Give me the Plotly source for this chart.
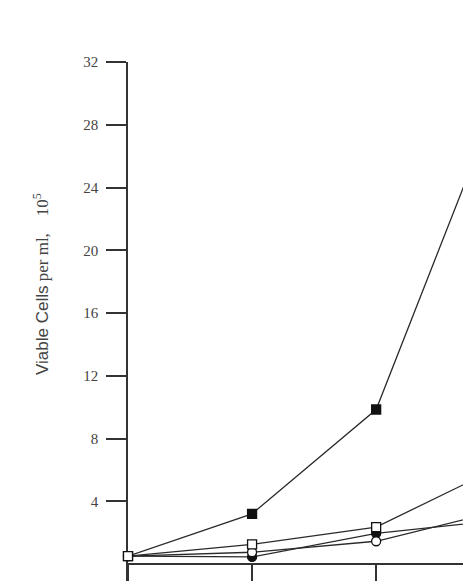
import plotly.graph_objects as go

days = [0, 1, 2, 3]
filled_square = [0.5, 3.2, 9.85, 30.0]
open_square = [0.5, 1.25, 2.35, 6.2]
filled_circle = [0.5, 0.45, 1.95, 2.8]
open_circle = [0.5, 0.75, 1.45, 3.4]
y_ticks = [4, 8, 12, 16, 20, 24, 28, 32]
x_ticks = [0, 1, 2, 3]

W, H = 463, 581
ml, mt = 128, 62
ymin, ymax = -1.083, 32
xmin, xmax = 0, 2.70

line_col = "#2a2a2a"
series = [
    (filled_circle, "circle", "#111111", "#111111"),
    (open_circle, "circle", "white", "#111111"),
    (filled_square, "square", "#111111", "#111111"),
    (open_square, "square", "white", "#111111"),
]

fig = go.Figure()
for vals, sym, fill, edge in series:
    fig.add_trace(go.Scatter(x=days, y=vals, mode="lines",
                             line=dict(color=line_col, width=1.3),
                             showlegend=False, hoverinfo="skip"))
for vals, sym, fill, edge in series:
    fig.add_trace(go.Scatter(x=days, y=vals, mode="markers", cliponaxis=False,
                             marker=dict(symbol=sym, size=9, color=fill,
                                         line=dict(color=edge, width=1.3)),
                             showlegend=False, hoverinfo="skip"))

fig.update_layout(
    width=W, height=H,
    margin=dict(l=ml, r=0, t=mt, b=0, pad=0),
    paper_bgcolor="white", plot_bgcolor="white",
    showlegend=False,
    xaxis=dict(range=[xmin, xmax], anchor="free",
               position=(0 - ymin) / (ymax - ymin),
               tickvals=x_ticks, ticks="outside", ticklen=18, tickwidth=1.5,
               tickcolor="#333", showticklabels=False, showline=True,
               linecolor="#333", linewidth=1.5, showgrid=False, zeroline=False,
               layer="below traces"),
    yaxis=dict(range=[ymin, ymax], tickvals=y_ticks, ticks="outside",
               ticklen=20, tickwidth=1.5, tickcolor="#333", showline=True,
               linecolor="#333", linewidth=1.5, showgrid=False, zeroline=False,
               ticklabelstandoff=5,
               tickfont=dict(family="Liberation Serif", size=15, color="#444"),
               layer="below traces"),
    annotations=[dict(
        text=("<span style='font-family:Liberation Sans'>Viable Cells</span>"
              " per ml,&nbsp;&nbsp;&nbsp;&nbsp;10<sup>5</sup>"),
        xref="paper", yref="paper",
        x=(41 - ml) / (W - ml), y=(H - 284) / (H - mt),
        xanchor="center", yanchor="middle", textangle=-90, showarrow=False,
        font=dict(family="Liberation Serif", size=17, color="#444"))],
)

fig.write_html("out.html")
